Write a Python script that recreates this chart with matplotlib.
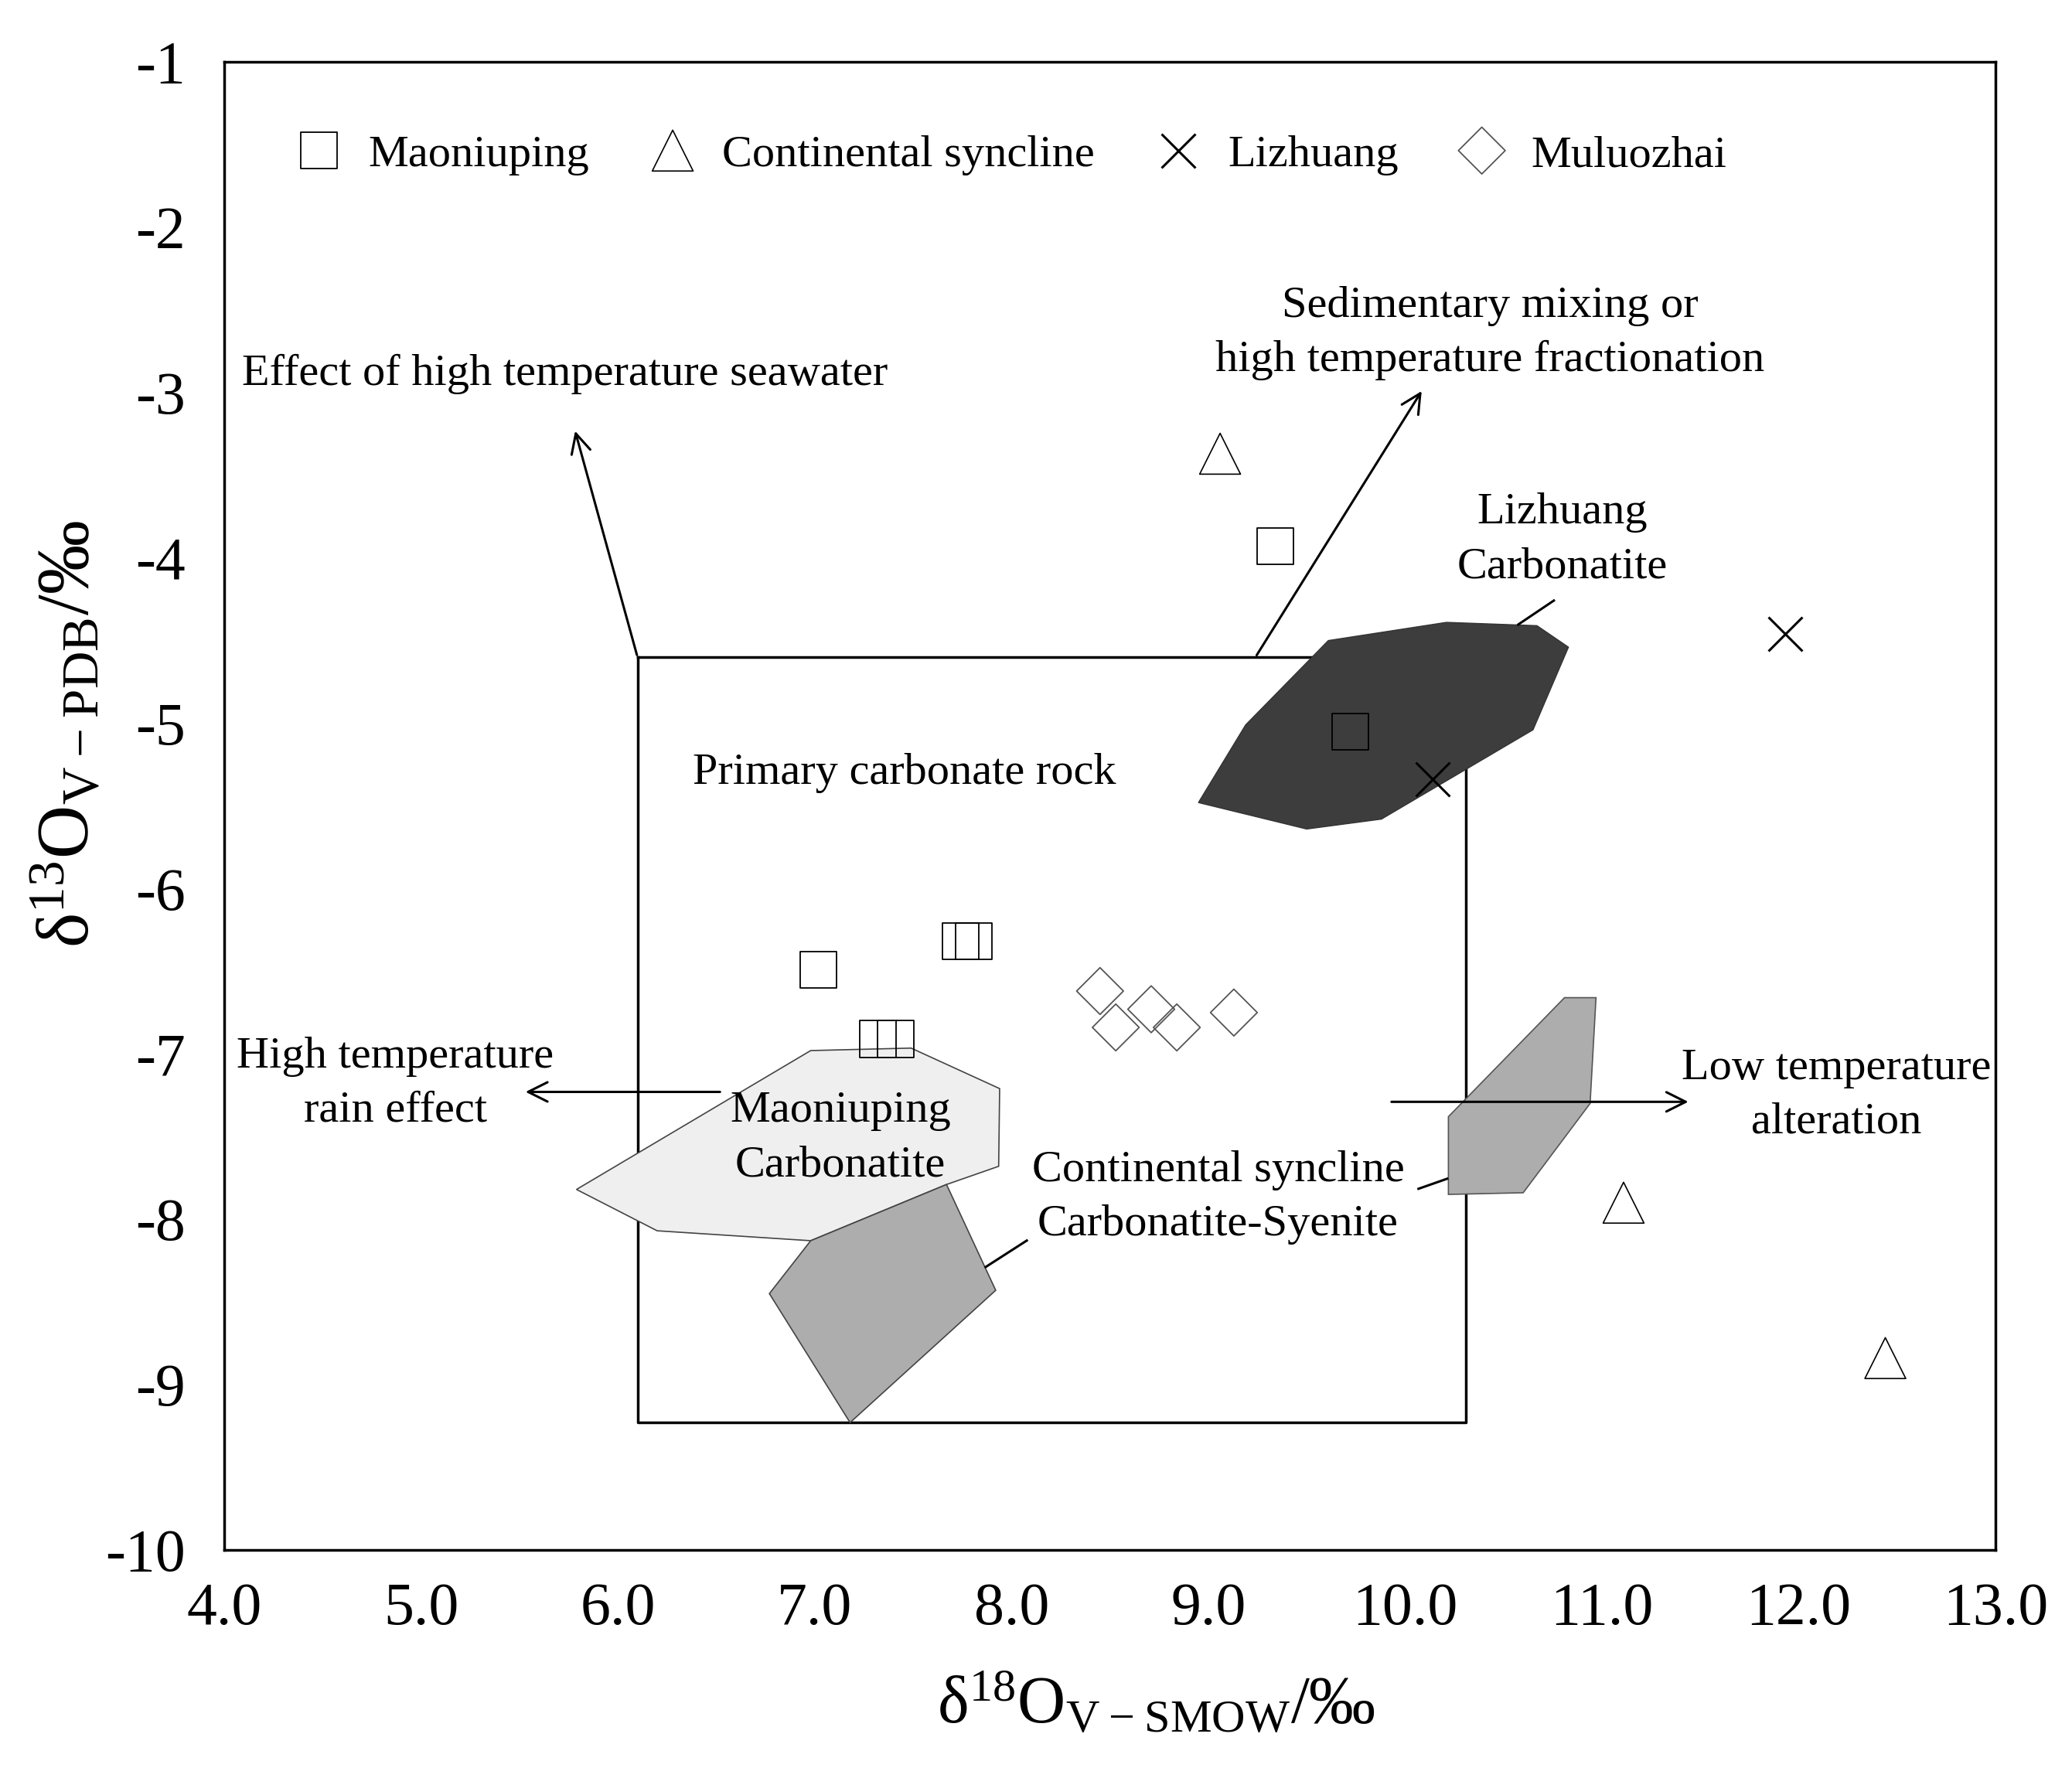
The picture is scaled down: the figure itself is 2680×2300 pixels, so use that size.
import matplotlib
matplotlib.use("Agg")
import matplotlib.pyplot as plt

plt.rcParams["font.family"] = ["Liberation Serif", "DejaVu Serif"]
plt.rcParams["mathtext.fontset"] = "custom"
plt.rcParams["mathtext.rm"] = "Liberation Serif"
plt.rcParams["mathtext.default"] = "regular"
plt.rcParams["axes.unicode_minus"] = False

# sample points (d18O, d13C)
maoniuping_x = [9.34, 9.72, 7.02, 7.74, 7.81, 7.32, 7.41]
maoniuping_y = [-3.93, -5.05, -6.49, -6.32, -6.32, -6.91, -6.91]
syncline_x = [9.06, 11.11, 12.44]
syncline_y = [-3.37, -7.90, -8.84]
lizhuang_x = [11.93, 10.14]
lizhuang_y = [-4.46, -5.34]
muluozhai_x = [8.45, 8.53, 8.71, 8.84, 9.13]
muluozhai_y = [-6.62, -6.84, -6.73, -6.84, -6.75]

# field outlines
lizhuang_field_x = [8.95, 9.19, 9.61, 10.21, 10.67, 10.83, 10.65, 9.88, 9.50]
lizhuang_field_y = [-5.48, -5.01, -4.50, -4.39, -4.41, -4.54, -5.04, -5.58, -5.64]
maoniuping_field_x = [5.79, 6.98, 7.49, 7.94, 7.935, 7.67, 6.98, 6.20]
maoniuping_field_y = [-7.82, -6.98, -6.965, -7.21, -7.68, -7.79, -8.13, -8.07]
syncline_field1_x = [6.98, 7.67, 7.92, 7.18, 6.77]
syncline_field1_y = [-8.13, -7.79, -8.43, -9.23, -8.45]
syncline_field2_x = [10.22, 10.22, 10.60, 10.94, 10.97, 10.81]
syncline_field2_y = [-7.38, -7.85, -7.84, -7.30, -6.66, -6.66]

# primary carbonate rock box
box_x = [6.10, 10.31, 10.31, 6.10, 6.10]
box_y = [-4.60, -4.60, -9.23, -9.23, -4.60]

x_ticks = [4.0, 5.0, 6.0, 7.0, 8.0, 9.0, 10.0, 11.0, 12.0, 13.0]
y_ticks = [-1, -2, -3, -4, -5, -6, -7, -8, -9, -10]

fig = plt.figure(figsize=(26.8, 23), dpi=100)
ax = fig.add_axes([0.1082, 0.1283, 0.8549, 0.8369])
ax.set_xlim(4.0, 13.0)
ax.set_ylim(-10, -1)

ax.plot(box_x, box_y, color="black", lw=2.5, zorder=2)

ax.fill(lizhuang_field_x, lizhuang_field_y, facecolor="#3d3d3d", edgecolor="#333333", lw=1, zorder=3)
ax.fill(maoniuping_field_x, maoniuping_field_y, facecolor="#efefef", edgecolor="#444444", lw=1.2, zorder=3)
ax.fill(syncline_field1_x, syncline_field1_y, facecolor="#adadad", edgecolor="#444444", lw=1.2, zorder=3)
ax.fill(syncline_field2_x, syncline_field2_y, facecolor="#adadad", edgecolor="#555555", lw=1.2, zorder=3)

ax.scatter(maoniuping_x, maoniuping_y, marker="s", s=1150, facecolors="none",
           edgecolors="black", linewidths=1.3, label="Maoniuping", zorder=5)
ax.scatter(syncline_x, syncline_y, marker="^", s=1450, facecolors="none",
           edgecolors="black", linewidths=1.2, label="Continental syncline", zorder=5)
ax.scatter(lizhuang_x, lizhuang_y, marker="x", s=1000, color="black",
           linewidths=2.2, label="Lizhuang", zorder=5)
ax.scatter(muluozhai_x, muluozhai_y, marker="D", s=950, facecolors="none",
           edgecolors="#555555", linewidths=1.3, label="Muluozhai", zorder=5)

ax.legend(loc="upper left", bbox_to_anchor=(0.033, 0.951), ncol=4, frameon=False,
          fontsize=42, handlelength=1.6, handletextpad=0.3, columnspacing=1.05,
          borderpad=0, borderaxespad=0, scatteryoffsets=[0.5])

fs = 42
ls = 1.45
arrow = dict(arrowstyle="->", lw=2.2, color="black", mutation_scale=45)
ax.annotate("", xy=(5.78, -3.22), xytext=(6.10, -4.60), arrowprops=arrow, zorder=4)
ax.annotate("", xy=(10.09, -2.98), xytext=(9.24, -4.60), arrowprops=arrow, zorder=4)
ax.annotate("", xy=(5.52, -7.23), xytext=(6.53, -7.23), arrowprops=arrow, zorder=4)
ax.annotate("", xy=(11.45, -7.29), xytext=(9.92, -7.29), arrowprops=arrow, zorder=6)

# leader lines
ax.plot([10.575, 10.756], [-4.403, -4.258], color="black", lw=2.2, zorder=4)
ax.plot([10.214, 10.068], [-7.755, -7.816], color="black", lw=2.2, zorder=4)
ax.plot([7.869, 8.078], [-8.289, -8.129], color="black", lw=2.2, zorder=4)

ax.text(4.09, -2.89, "Effect of high temperature seawater", fontsize=fs, ha="left", va="center")
ax.text(10.43, -2.64, "Sedimentary mixing or\nhigh temperature fractionation", fontsize=fs,
        ha="center", va="center", linespacing=ls)
ax.text(10.80, -3.89, "Lizhuang\nCarbonatite", fontsize=fs, ha="center", va="center", linespacing=ls)
ax.text(6.38, -5.30, "Primary carbonate rock", fontsize=fs, ha="left", va="center")
ax.text(4.87, -7.18, "High temperature\nrain effect", fontsize=fs, ha="center", va="center", linespacing=ls)
ax.text(7.13, -7.51, "Maoniuping\nCarbonatite", fontsize=fs, ha="center", va="center", linespacing=ls, zorder=6)
ax.text(9.05, -7.87, "Continental syncline\nCarbonatite-Syenite", fontsize=fs, ha="center", va="center",
        linespacing=ls)
ax.text(12.19, -7.25, "Low temperature\nalteration", fontsize=fs, ha="center", va="center", linespacing=ls)

ax.set_xticks(x_ticks)
ax.set_xticklabels([f"{v:.1f}" for v in x_ticks])
ax.set_yticks(y_ticks)
ax.set_yticklabels([str(v) for v in y_ticks])
ax.tick_params(axis="both", length=0, labelsize=56)
ax.tick_params(axis="x", pad=30)
ax.tick_params(axis="y", pad=36)

for sp in ax.spines.values():
    sp.set_linewidth(2.5)

ax.set_xlabel("δ$^{18}$O$_{V-SMOW}$/‰", fontsize=62)
ax.xaxis.set_label_coords(0.526, -0.104)
ax.xaxis.label.set_va("center")
ax.set_ylabel("δ$^{13}$O$_{V-PDB}$/‰", fontsize=69)
ax.yaxis.set_label_coords(-0.088, 0.548)
ax.yaxis.label.set_va("center")

fig.savefig("out.png", dpi=100)
plt.close(fig)
